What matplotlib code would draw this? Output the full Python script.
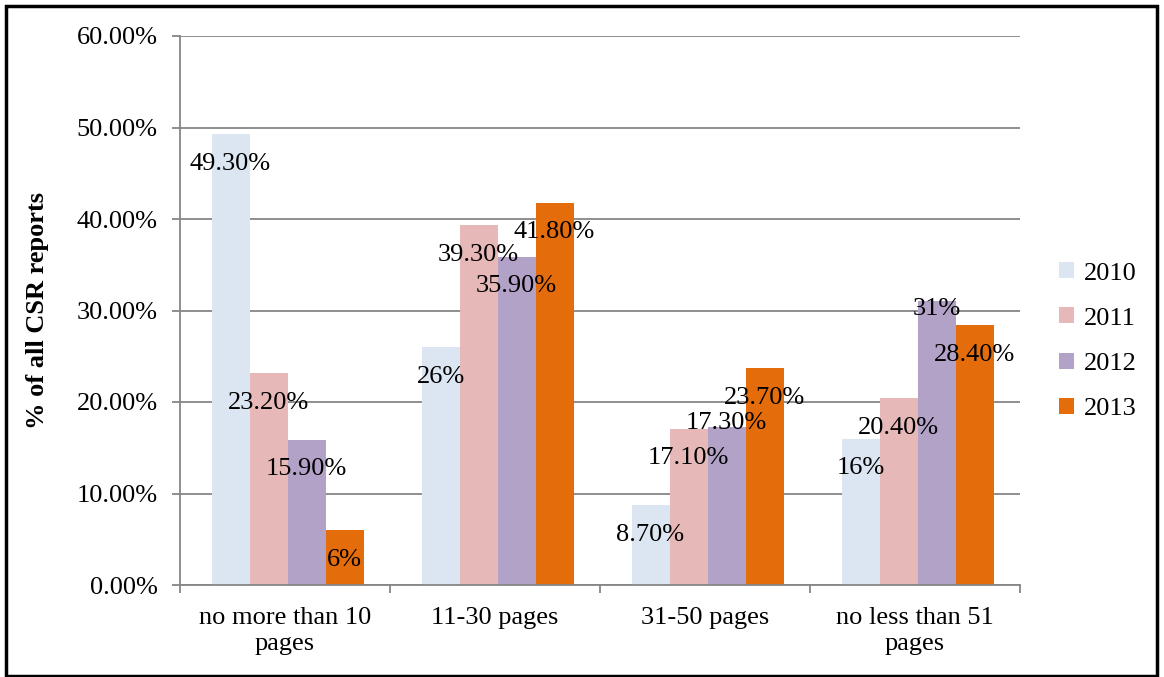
import matplotlib
matplotlib.use("Agg")
import matplotlib.pyplot as plt
from matplotlib.patches import Rectangle
import numpy as np

plt.rcParams['font.family'] = ['Liberation Serif', 'DejaVu Serif']

categories = ["no more than 10\npages", "11-30 pages", "31-50 pages", "no less than 51\npages"]
years = ["2010", "2011", "2012", "2013"]
values_2010 = [49.3, 26.0, 8.7, 16.0]
values_2011 = [23.2, 39.3, 17.1, 20.4]
values_2012 = [15.9, 35.9, 17.3, 31.0]
values_2013 = [6.0, 41.8, 23.7, 28.4]
label_2010 = ["49.30%", "26%", "8.70%", "16%"]
label_2011 = ["23.20%", "39.30%", "17.10%", "20.40%"]
label_2012 = ["15.90%", "35.90%", "17.30%", "31%"]
label_2013 = ["6%", "41.80%", "23.70%", "28.40%"]
y_ticks = [0, 10, 20, 30, 40, 50, 60]

series = [values_2010, values_2011, values_2012, values_2013]
labels = [label_2010, label_2011, label_2012, label_2013]
colors = ["#DCE6F2", "#E6B9B8", "#B3A2C7", "#E46C0A"]

# label offsets (points below the bar top); a few labels sit higher
default_offset = -21.5
label_offset = {(2, 2): 3, (3, 2): -5.5}

fig = plt.figure(figsize=(11.64, 6.77), dpi=100)
ax = fig.add_axes([180 / 1164, 1 - 585 / 677, 840 / 1164, 549 / 677])

x = np.arange(len(categories))
bw = 0.181
fs = 19
for i, (vals, labs, col) in enumerate(zip(series, labels, colors)):
    pos = x + (i - 1.5) * bw + 0.012
    ax.bar(pos, vals, width=bw, color=col, label=years[i], zorder=2)
    for j, (p, v, t) in enumerate(zip(pos, vals, labs)):
        off = label_offset.get((j, i), default_offset)
        ax.annotate(t, (p, v), xytext=(0, off), textcoords="offset points",
                    ha="center", va="center", fontsize=fs, zorder=3)

ax.set_xlim(-0.5, len(categories) - 0.5)
ax.set_ylim(0, 60)
ax.set_yticks(y_ticks)
ax.set_yticklabels([f"{t:.2f}%" for t in y_ticks], fontsize=fs)
ax.set_xticks(x)
ax.set_xticklabels(categories, fontsize=fs, linespacing=1.25)
ax.set_xticks(np.arange(len(categories) + 1) - 0.5, minor=True)
ax.tick_params(axis="x", which="major", length=0, pad=16)
ax.tick_params(axis="x", which="minor", length=6, color="#868686", width=1.3)
ax.tick_params(axis="y", length=6, color="#868686", width=1.3, pad=10)

ax.yaxis.grid(True, color="#868686", linewidth=1.3, zorder=1)
ax.set_axisbelow(True)
for s in ["top", "right"]:
    ax.spines[s].set_visible(False)
for s in ["left", "bottom"]:
    ax.spines[s].set_color("#868686")
    ax.spines[s].set_linewidth(1.3)

ax.set_ylabel("% of all CSR reports", fontsize=fs, fontweight="bold", labelpad=20)

leg = ax.legend(loc="center left", bbox_to_anchor=(1.031, 0.444), frameon=False,
                fontsize=fs, handlelength=0.55, handleheight=0.55,
                labelspacing=0.87, handletextpad=0.4, borderpad=0)

# outer frame around the whole chart
fig.patches.append(Rectangle((6 / 1164, 1 / 677), 1151 / 1164, 670 / 677,
                             transform=fig.transFigure, fill=False,
                             edgecolor="black", linewidth=2.5))

fig.savefig("out.png", dpi=100)
